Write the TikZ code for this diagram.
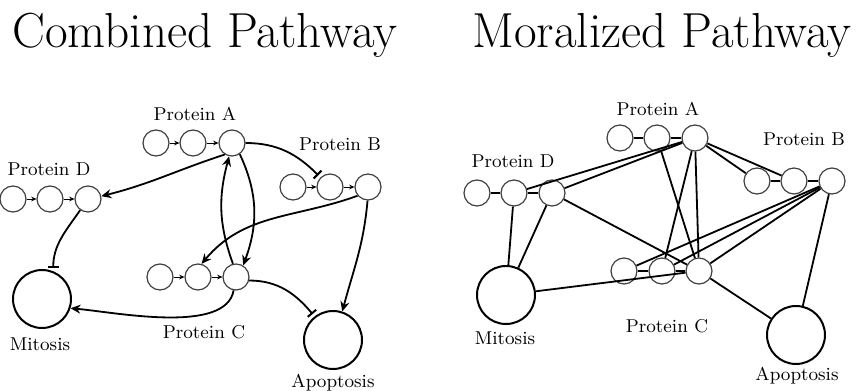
\documentclass[tikz,border=0pt]{standalone}
\usetikzlibrary{arrows.meta}
\begin{document}
\begin{tikzpicture}[x=0.5pt,y=0.5pt,
  st/.style={circle,draw=black!75,line width=0.6pt,minimum size=13pt,inner sep=0pt},
  outcome/.style={circle,draw=black,line width=1pt,minimum size=29pt,inner sep=0pt},
  lbl/.style={font=\fontsize{9.3}{11}\selectfont,inner sep=0pt},
  ttl/.style={font=\fontsize{24.6}{29}\selectfont,inner sep=0pt,anchor=base},
  chainarr/.style={-{Stealth[length=2.6pt,width=2.4pt]},line width=0.5pt},
  act/.style={-{Stealth[length=5pt,width=4.5pt]},line width=0.9pt},
  inh/.style={-{Bar[width=5.5pt,line width=1pt]},line width=0.9pt,shorten >=1.5pt},
  mor/.style={line width=0.9pt}]
\useasboundingbox (0,0) rectangle (858,-391);

% ---------- titles ----------
\node[ttl] (t1) at (205,-47) {Combined Pathway};
\node[ttl] (t2) at (662,-47) {Moralized Pathway};

% ---------- combined pathway ----------
\node[st] (lA1) at (156,-143) {};
\node[st] (lA2) at (193,-143) {};
\node[st] (lA3) at (232,-143) {};
\node[st] (lB1) at (293,-187) {};
\node[st] (lB2) at (330,-187) {};
\node[st] (lB3) at (368,-187) {};
\node[st] (lD1) at (13,-199) {};
\node[st] (lD2) at (50,-199) {};
\node[st] (lD3) at (88,-199) {};
\node[st] (lC1) at (160,-277) {};
\node[st] (lC2) at (198,-277) {};
\node[st] (lC3) at (236,-277) {};
\node[outcome] (lMit) at (42,-299) {};
\node[outcome] (lApo) at (333,-340) {};

\node[lbl] (lAt) at (195,-114) {Protein A};
\node[lbl] (lBt) at (340,-144) {Protein B};
\node[lbl] (lDt) at (49,-169) {Protein D};
\node[lbl] (lCt) at (204,-332) {Protein C};
\node[lbl] (lMt) at (40,-344) {Mitosis};
\node[lbl] (lPt) at (333,-383) {Apoptosis};

\foreach \p in {A,B,C,D}{
  \draw[chainarr] (l\p1) -- (l\p2);
  \draw[chainarr] (l\p2) -- (l\p3);
}

\draw[act] (lA3.238) to[out=198,in=14] (lD3.12);
\draw[inh] (lA3.0) to[out=0,in=135] (lB2.135);
\draw[act] (lA3.-55) to[out=-65,in=70] (lC3.58);
\draw[act] (lC3.103) to[out=110,in=-105] (lA3.-102);
\draw[act] (lB3.220) to[out=200,in=50] (lC2.75);
\draw[act] (lB3.-92) to[out=-95,in=75] (lApo.72);
\draw[inh] (lD3.235) to[out=235,in=90] (lMit.68);
\draw[act] (lC3.-100) to[out=-100,in=-5,looseness=0.7] (lMit.-18);
\draw[inh] (lC3.-15) to[out=0,in=130] (lApo.128);

% ---------- moralized pathway ----------
\node[st] (rA1) at (620,-138) {};
\node[st] (rA2) at (657,-138) {};
\node[st] (rA3) at (695,-138) {};
\node[st] (rB1) at (757,-181) {};
\node[st] (rB2) at (794,-181) {};
\node[st] (rB3) at (832,-181) {};
\node[st] (rD1) at (477,-193) {};
\node[st] (rD2) at (514,-193) {};
\node[st] (rD3) at (552,-193) {};
\node[st] (rC1) at (624,-271) {};
\node[st] (rC2) at (662,-271) {};
\node[st] (rC3) at (699,-271) {};
\node[outcome] (rMit) at (506,-295) {};
\node[outcome] (rApo) at (796,-335) {};

\node[lbl] (rAt) at (658,-109) {Protein A};
\node[lbl] (rBt) at (804,-139) {Protein B};
\node[lbl] (rDt) at (513,-161) {Protein D};
\node[lbl] (rCt) at (667,-326) {Protein C};
\node[lbl] (rMt) at (505,-338) {Mitosis};
\node[lbl] (rPt) at (797,-376) {Apoptosis};

\foreach \p in {A,B,C,D}{
  \draw[mor] (r\p1) -- (r\p2);
  \draw[mor] (r\p2) -- (r\p3);
}
\foreach \u/\v in {rA3/rB1, rA3/rB2, rA3/rD2, rA3/rD3, rA3/rC2, rA3/rC3,
                   rA2/rC3, rB3/rC1, rB3/rC2, rB3/rC3, rB3/rApo,
                   rC3/rApo, rC3/rMit, rD3/rC3, rD2/rMit, rD3/rMit}{
  \draw[mor] (\u) -- (\v);
}
\end{tikzpicture}
\end{document}
